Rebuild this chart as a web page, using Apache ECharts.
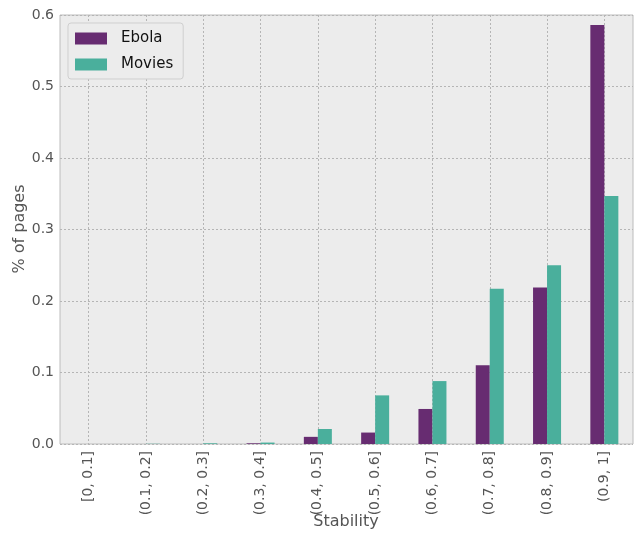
<!DOCTYPE html>
<html>
<head>
<meta charset="utf-8">
<script src="https://cdn.jsdelivr.net/npm/echarts@6/dist/echarts.min.js"></script>
<style>html,body{margin:0;padding:0;background:#fff}#c{width:636px;height:533px}</style>
</head>
<body>
<div id="c"></div>
<script>
const categories = ['[0, 0.1]', '(0.1, 0.2]', '(0.2, 0.3]', '(0.3, 0.4]', '(0.4, 0.5]', '(0.5, 0.6]', '(0.6, 0.7]', '(0.7, 0.8]', '(0.8, 0.9]', '(0.9, 1]'];
const ebola = [0, 0, 0, 0.001, 0.010, 0.016, 0.049, 0.110, 0.219, 0.586];
const movies = [0, 0.0003, 0.001, 0.002, 0.021, 0.068, 0.088, 0.217, 0.250, 0.347];
const yTicks = [0, 0.1, 0.2, 0.3, 0.4, 0.5, 0.6];
const xTitle = 'Stability';
const yTitle = '% of pages';

const chart = echarts.init(document.getElementById('c'), null, {renderer: 'canvas'});
const font = 'DejaVu Sans';
chart.setOption({
  animation: false,
  backgroundColor: '#ffffff',
  textStyle: {fontFamily: font},
  grid: {left: 60, right: 3, top: 15, bottom: 89, outerBoundsMode: 'none', containLabel: false,
    show: true, backgroundColor: '#ececec', borderColor: '#bcbcbc', borderWidth: 1},
  legend: {
    left: 68, top: 23, orient: 'vertical', icon: 'rect', itemWidth: 32, itemHeight: 12, itemGap: 11,
    padding: [8, 10, 7, 7], backgroundColor: '#ececec', borderColor: '#cfcfcf', borderWidth: 1, borderRadius: 3,
    textStyle: {fontFamily: font, fontSize: 15, color: '#111', padding: [0, 0, 0, 9]},
    data: ['Ebola', 'Movies']
  },
  graphic: [
    {type: 'text', x: 346, y: 522, style: {text: xTitle, font: '16px "DejaVu Sans"', fill: '#555', align: 'center', verticalAlign: 'middle'}},
    {type: 'text', x: 20, y: 229, rotation: Math.PI / 2, style: {text: yTitle, font: '16px "DejaVu Sans"', fill: '#555', align: 'center', verticalAlign: 'middle'}}
  ],
  xAxis: {
    type: 'category', data: categories,
    axisLine: {show: false}, axisTick: {show: false, alignWithLabel: true},
    axisLabel: {rotate: 90, fontSize: 14, color: '#555', margin: 7, fontFamily: font},
    splitLine: {show: true, alignWithLabel: true, lineStyle: {color: '#b5b5b5', type: [2, 2], width: 1}}
  },
  yAxis: {
    type: 'value', min: 0, max: 0.6, interval: 0.1,
    axisLine: {show: false}, axisTick: {show: false},
    axisLabel: {fontSize: 14, color: '#555', margin: 6, fontFamily: font,
      formatter: v => { const t = yTicks.find(x => Math.abs(x - v) < 1e-9); return (t !== undefined ? t : v).toFixed(1); }},
    splitLine: {show: true, lineStyle: {color: '#b5b5b5', type: [2, 2], width: 1}}
  },
  series: [
    {name: 'Ebola', type: 'bar', data: ebola, barWidth: 14, barGap: '0%',
     itemStyle: {color: '#672c71'}},
    {name: 'Movies', type: 'bar', data: movies, barWidth: 14,
     itemStyle: {color: '#4aaf9c'}}
  ]
});
</script>
</body>
</html>
